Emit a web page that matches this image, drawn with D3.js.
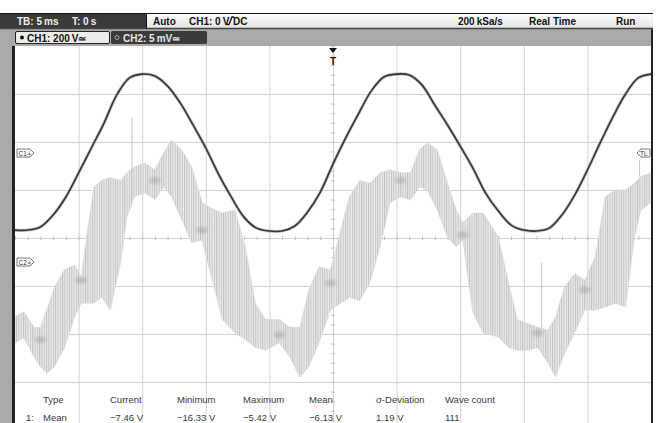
<!DOCTYPE html>
<html>
<head>
<meta charset="utf-8">
<script src="https://cdn.jsdelivr.net/npm/d3@7"></script>
<style>
  body { margin: 0; background: #fff; }
  svg { display: block; font-family: "Liberation Sans", Arial, sans-serif; }
</style>
</head>
<body>
<div id="scope"></div>
<script>
// values
// CH1 (200 V/div) sampled every ms, volts
const ch1Time = d3.range(-25, 26, 1);
const ch1Volts = [-321, -321, -308, -258, -183, -83, 21, 125, 242, 313, 329, 321, 279, 208, 117, 21,
  -88, -183, -267, -313, -325, -325, -304, -246, -163, -46, 63, 163, 258, 317, 329, 325, 283, 200,
  117, 29, -63, -167, -242, -300, -321, -325, -313, -258, -175, -71, 42, 150, 246, 313, 329];

// CH2 (5 mV/div) envelope of the noisy band, ms / mV
const ch2Time = [-25.0, -24.3, -23.5, -23.0, -22.5, -21.9, -21.1, -20.3, -19.8, -19.3, -18.8, -18.2,
  -17.5, -16.7, -16.2, -15.6, -14.8, -14.0, -13.3, -12.7, -11.9, -11.1, -10.3, -9.7, -8.7, -7.7,
  -6.9, -6.1, -5.3, -4.2, -3.4, -2.6, -1.9, -1.1, -0.2, 0.6, 1.3, 2.1, 2.9, 3.7, 4.5, 5.3, 6.1,
  6.8, 7.4, 8.2, 9.0, 9.7, 10.2, 11.0, 11.8, 13.0, 13.8, 14.5, 15.3, 16.1, 16.9, 17.5, 18.2, 19.0,
  19.8, 20.6, 21.4, 22.2, 23.0, 23.7, 24.2, 25.0];
const ch2Upper = [-5.7, -5.2, -6.8, -6.8, -5.0, -2.6, -0.8, -0.3, -1.6, 3.3, 7.8, 8.5, 8.8, 8.5,
  9.3, 9.9, 10.3, 9.6, 11.4, 12.7, 11.7, 9.9, 6.2, 5.7, 5.1, 5.4, 1.6, -4.3, -6.0, -6.0, -6.8,
  -6.8, -2.9, -0.5, -0.8, 3.3, 6.8, 8.5, 8.2, 9.3, 9.6, 9.3, 9.3, 11.7, 12.4, 11.7, 8.2, 5.4, 4.1,
  5.1, 5.1, 2.6, -2.2, -6.0, -6.4, -6.8, -7.1, -5.7, -2.6, -1.2, -1.9, 0.5, 6.8, 7.5, 7.5, 8.2,
  8.9, 9.3];
const ch2Lower = [-8.4, -7.9, -9.9, -10.9, -11.6, -10.9, -8.9, -5.7, -4.3, -4.3, -4.3, -3.7, -5.0,
  -0.1, 4.7, 6.8, 7.2, 6.5, 7.8, 6.8, 4.4, 2.0, 2.3, -0.8, -6.0, -7.4, -8.1, -8.9, -9.2, -8.4,
  -9.9, -12.0, -10.9, -8.4, -5.0, -4.3, -3.7, -4.0, -2.2, 1.6, 6.2, 6.8, 6.5, 7.8, 7.5, 5.4, 2.6,
  1.6, 2.3, -5.3, -7.4, -7.8, -8.9, -9.2, -9.2, -8.9, -10.5, -12.0, -9.5, -7.4, -5.0, -5.0, -4.7,
  -4.3, -4.7, 2.6, 5.4, 6.2];
// a few isolated spikes: time, from, to (mV)
const ch2SpikeTime = [-15.8, 16.4, 24.1];
const ch2SpikeFrom = [9.5, -6.9, 8.9];
const ch2SpikeTo = [15.1, -0.1, 10.6];
// darker clusters where the band narrows (ms / mV)
const ch2KnotTime = [-23.0, -19.8, -14.0, -10.3, -4.2, -0.2, 5.3, 10.2, 16.1, 19.8];
const ch2KnotMv = [-8.1, -1.9, 8.5, 3.3, -7.6, -2.2, 8.5, 2.8, -7.4, -2.9];

const header = ["Type", "Current", "Minimum", "Maximum", "Mean", "\u03c3-Deviation", "Wave count"];
const row1 = ["Mean", "\u22127.46 V", "\u221216.33 V", "\u22125.42 V", "\u22126.13 V", "1.19 V", "111"];

const W = 656, H = 423;
const plot = {left: 15, right: 651, top: 46, bottom: 430};
const ch1Div = 200, ch1Pos = 1.77;   // V/div, ground offset in divisions
const ch2Div = 5, ch2Pos = -0.5;     // mV/div

const x = d3.scaleLinear().domain([-25, 25]).range([plot.left, plot.right]);
const yDiv = d3.scaleLinear().domain([-4, 4]).range([plot.bottom, plot.top]);
const y1 = d3.scaleLinear().domain([ch1Div * (-4 - ch1Pos), ch1Div * (4 - ch1Pos)]).range([plot.bottom, plot.top]);
const y2 = d3.scaleLinear().domain([ch2Div * (-4 - ch2Pos), ch2Div * (4 - ch2Pos)]).range([plot.bottom, plot.top]);

const svg = d3.select("#scope").append("svg")
    .attr("width", W)
    .attr("height", H);

const defs = svg.append("defs");
defs.append("clipPath").attr("id", "clip")
  .append("rect")
    .attr("x", plot.left).attr("y", plot.top)
    .attr("width", plot.right - plot.left).attr("height", H - plot.top);

const stripes = defs.append("pattern")
    .attr("id", "stripes")
    .attr("patternUnits", "userSpaceOnUse")
    .attr("width", 2.3).attr("height", 10);
stripes.append("rect").attr("width", 2.3).attr("height", 10).attr("fill", "#ebebeb");
stripes.append("rect").attr("width", 1).attr("height", 10).attr("fill", "#c2c2c2");

const topGrad = defs.append("linearGradient")
    .attr("id", "topgrad").attr("x1", "0%").attr("x2", "0%").attr("y1", "0%").attr("y2", "100%");
topGrad.append("stop").attr("offset", "0%").attr("stop-color", "#ffffff");
topGrad.append("stop").attr("offset", "100%").attr("stop-color", "#e2e2e2");

const blur = defs.append("filter").attr("id", "soft");
blur.append("feGaussianBlur").attr("stdDeviation", 1.4);

// frame / background
svg.append("rect").attr("x", 0).attr("y", 13).attr("width", 653).attr("height", H - 13).attr("fill", "#a9a9a9");
svg.append("rect")
    .attr("x", plot.left).attr("y", plot.top)
    .attr("width", plot.right - plot.left).attr("height", H - plot.top)
    .attr("fill", "#fff");

// grid
const grid = svg.append("g").attr("clip-path", "url(#clip)");
grid.append("g")
    .attr("transform", "translate(0," + plot.bottom + ")")
    .call(d3.axisBottom(x).tickValues(d3.range(-20, 21, 5)).tickSize(-(plot.bottom - plot.top)).tickFormat(""))
    .call(g => g.select(".domain").remove())
    .selectAll("line").attr("stroke", "#d2d2d2");
grid.append("g")
    .attr("transform", "translate(" + plot.left + ",0)")
    .call(d3.axisLeft(yDiv).tickValues(d3.range(-3, 4, 1)).tickSize(-(plot.right - plot.left)).tickFormat(""))
    .call(g => g.select(".domain").remove())
    .selectAll("line").attr("stroke", "#d2d2d2");
// small ticks on centre lines
grid.append("g")
    .attr("transform", "translate(0," + (yDiv(0) + 2) + ")")
    .call(d3.axisTop(x).tickValues(d3.range(-25, 25.01, 1)).tickSize(4).tickFormat(""))
    .call(g => g.select(".domain").remove())
    .selectAll("line").attr("stroke", "#c4c4c4");
grid.append("g")
    .attr("transform", "translate(" + (x(0) + 2) + ",0)")
    .call(d3.axisLeft(yDiv).tickValues(d3.range(-4, 4.01, 0.2)).tickSize(4).tickFormat(""))
    .call(g => g.select(".domain").remove())
    .selectAll("line").attr("stroke", "#c4c4c4");

// traces
const traces = svg.append("g").attr("clip-path", "url(#clip)");
const ch2 = ch2Time.map((t, i) => ({t: t, hi: ch2Upper[i], lo: ch2Lower[i]}));
const band = d3.area()
    .x(d => x(d.t))
    .y0(d => y2(d.lo))
    .y1(d => y2(d.hi));
traces.append("path")
    .datum(ch2)
    .attr("d", band)
    .attr("fill", "url(#stripes)")
    .attr("stroke", "#d6d6d6")
    .attr("stroke-width", 0.6);
traces.selectAll("ellipse.knot")
    .data(ch2KnotTime)
    .enter()
    .append("ellipse")
    .attr("class", "knot")
    .attr("cx", d => x(d))
    .attr("cy", (d, i) => y2(ch2KnotMv[i]))
    .attr("rx", 6).attr("ry", 3.5)
    .attr("fill", "#777")
    .attr("opacity", 0.28)
    .attr("filter", "url(#soft)");
traces.selectAll("line.spike")
    .data(ch2SpikeTime)
    .enter()
    .append("line")
    .attr("class", "spike")
    .attr("x1", d => x(d)).attr("x2", d => x(d))
    .attr("y1", (d, i) => y2(ch2SpikeFrom[i]))
    .attr("y2", (d, i) => y2(ch2SpikeTo[i]))
    .attr("stroke", "#c6c6c6")
    .attr("stroke-width", 1);

const ch1 = ch1Time.map((t, i) => ({t: t, v: ch1Volts[i]}));
const line1 = d3.line()
    .x(d => x(d.t))
    .y(d => y1(d.v))
    .curve(d3.curveCatmullRom);
traces.append("path")
    .datum(ch1)
    .attr("d", line1)
    .attr("fill", "none")
    .attr("stroke", "#999")
    .attr("stroke-width", 3.2)
    .attr("opacity", 0.6);
traces.append("path")
    .datum(ch1)
    .attr("d", line1)
    .attr("fill", "none")
    .attr("stroke", "#353535")
    .attr("stroke-width", 1.6);

// channel markers
function leftTag(yPos, label) {
    const g = svg.append("g").attr("transform", "translate(17," + yPos + ")");
    g.append("path")
        .attr("d", "M0,-4 H13 L17,0 L13,4 H0 Z")
        .attr("fill", "#fff").attr("stroke", "#555").attr("stroke-width", 0.8);
    g.append("text").attr("x", 1.5).attr("y", 2.6)
        .attr("font-size", 6.5).attr("fill", "#333").text(label);
}
leftTag(y1(0), "C1\u23da");
leftTag(y2(0), "C2\u23da");
const tl = svg.append("g").attr("transform", "translate(" + (plot.right - 1) + "," + y1(0) + ")");
tl.append("path")
    .attr("d", "M0,-4 H-9 L-13,0 L-9,4 H0 Z")
    .attr("fill", "#fff").attr("stroke", "#555").attr("stroke-width", 0.8);
tl.append("text").attr("x", -10).attr("y", 2.6)
    .attr("font-size", 6.5).attr("fill", "#333").text("TL");

// trigger marker
const trig = svg.append("g").attr("transform", "translate(" + x(0) + ",0)");
trig.append("path").attr("d", "M-4,48 H4 L0,53 Z").attr("fill", "#111");
trig.append("text").attr("y", 65).attr("text-anchor", "middle")
    .attr("font-size", 10).attr("font-weight", "bold").attr("fill", "#111").text("T");

// measurement table
const colX = [43, 110, 177, 243, 309, 376, 445];
const table = svg.append("g").attr("font-size", 9.5).attr("fill", "#3a3a3a");
table.selectAll("text.head")
    .data(header)
    .enter()
    .append("text")
    .attr("class", "head")
    .attr("x", (d, i) => colX[i])
    .attr("y", 403)
    .text(d => d);
table.append("text").attr("x", 26).attr("y", 421).text("1:");
table.selectAll("text.val")
    .data(row1)
    .enter()
    .append("text")
    .attr("class", "val")
    .attr("x", (d, i) => colX[i])
    .attr("y", 421)
    .text(d => d);

// plot border
svg.append("rect").attr("x", 12).attr("y", plot.top).attr("width", 3).attr("height", H - plot.top).attr("fill", "#222");
svg.append("rect").attr("x", plot.right).attr("y", 29).attr("width", 2).attr("height", H - 29).attr("fill", "#222");

// top status bar
svg.append("rect").attr("x", 0).attr("y", 13).attr("width", 653).attr("height", 16).attr("fill", "url(#topgrad)");
svg.append("rect").attr("x", 0).attr("y", 13).attr("width", 146).attr("height", 16).attr("fill", "#3a3a3a");
svg.append("line").attr("x1", 0).attr("x2", 653).attr("y1", 13.5).attr("y2", 13.5).attr("stroke", "#111");
svg.append("line").attr("x1", 0).attr("x2", 653).attr("y1", 28.5).attr("y2", 28.5).attr("stroke", "#444").attr("stroke-width", 1.5);
svg.append("line").attr("x1", 146.5).attr("x2", 146.5).attr("y1", 13).attr("y2", 29).attr("stroke", "#111");

const status = svg.append("g").attr("font-size", 10).attr("font-weight", "bold");
status.append("text").attr("x", 17).attr("y", 25).attr("fill", "#eee").text("TB: 5\u2009ms");
status.append("text").attr("x", 72).attr("y", 25).attr("fill", "#eee").text("T: 0\u2009s");
status.append("text").attr("x", 153).attr("y", 25).attr("fill", "#111").text("Auto");
status.append("text").attr("x", 189).attr("y", 25).attr("fill", "#111").text("CH1: 0\u2009V");
status.append("path").attr("d", "M226,24.5 H229 L232,17 H234").attr("fill", "none").attr("stroke", "#111").attr("stroke-width", 1.3);
status.append("text").attr("x", 233).attr("y", 25).attr("fill", "#111").text("DC");
status.append("text").attr("x", 458).attr("y", 25).attr("fill", "#111").text("200\u2009kSa/s");
status.append("text").attr("x", 529).attr("y", 25).attr("fill", "#111").text("Real Time");
status.append("text").attr("x", 616).attr("y", 25).attr("fill", "#111").text("Run");

// channel tabs
svg.append("rect").attr("x", 15.5).attr("y", 31.5).attr("width", 94).attr("height", 12).attr("rx", 1.5)
    .attr("fill", "#ececec").attr("stroke", "#222").attr("stroke-width", 1);
svg.append("rect").attr("x", 111).attr("y", 31).attr("width", 96).attr("height", 13).attr("rx", 1.5)
    .attr("fill", "#3a3a3a");
svg.append("circle").attr("cx", 22).attr("cy", 37.5).attr("r", 2).attr("fill", "#111");
svg.append("circle").attr("cx", 117).attr("cy", 37.5).attr("r", 2).attr("fill", "none").attr("stroke", "#aaa");
const tabs = svg.append("g").attr("font-size", 10).attr("font-weight", "bold");
tabs.append("text").attr("x", 27).attr("y", 41.5).attr("fill", "#111").text("CH1: 200\u2009V\u2243");
tabs.append("text").attr("x", 123).attr("y", 41.5).attr("fill", "#e8e8e8").text("CH2: 5\u2009mV\u2243");
</script>
</body>
</html>
